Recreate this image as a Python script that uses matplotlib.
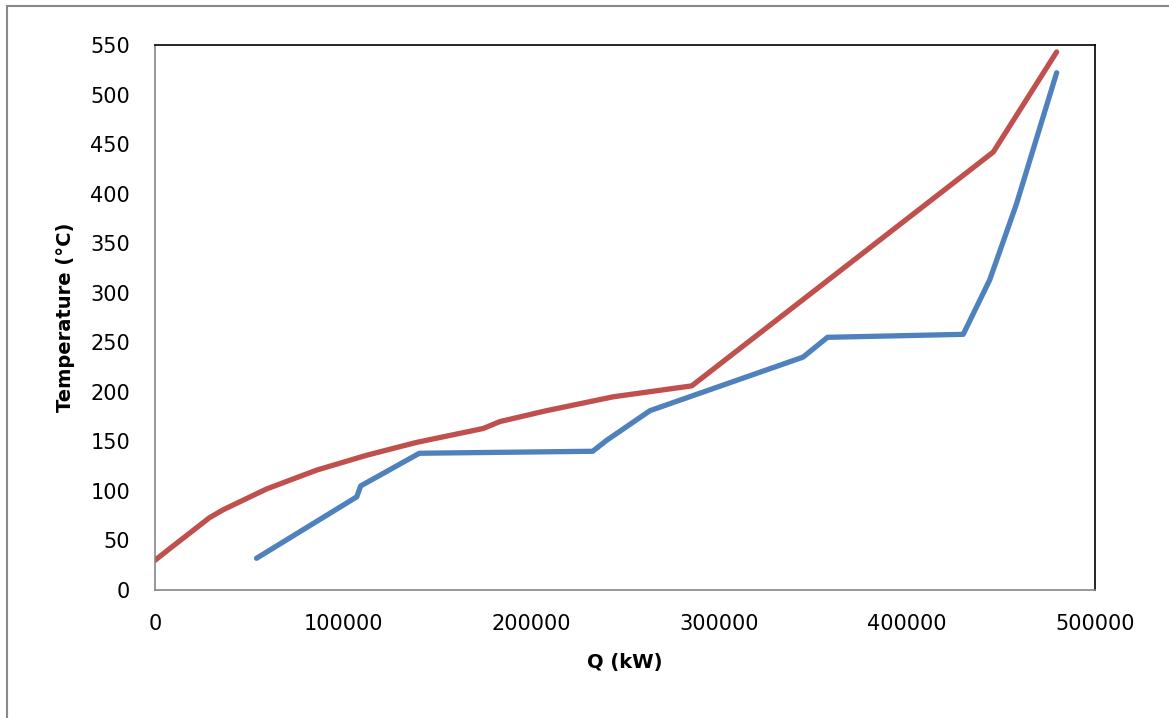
import matplotlib
matplotlib.use("Agg")
import matplotlib.pyplot as plt
from matplotlib.patches import Rectangle
from matplotlib.ticker import FuncFormatter

# hot stream (red) composite curve
hot_q = [0, 8000, 29000, 36300, 59400, 86000, 112600, 139200, 174600,
         183500, 208300, 243800, 285500, 445900, 479600]
hot_t = [30, 42, 73, 81, 102, 121, 136, 149, 163,
         170, 181, 195, 206, 442, 543]

# cold stream (blue) composite curve
cold_q = [54000, 107300, 109400, 140600, 232800, 240200, 263300,
          344700, 357700, 429900, 444000, 458300, 479600]
cold_t = [32, 94, 105, 138, 140, 151, 181,
          235, 255, 258, 313, 390, 522]

x_ticks = [0, 100000, 200000, 300000, 400000, 500000]
y_ticks = list(range(0, 551, 50))

plt.rcParams["font.family"] = ["DejaVu Sans"]

fig = plt.figure(figsize=(11.69, 7.18), dpi=100, facecolor="white")
ax = fig.add_axes([155 / 1169, 1 - 590 / 718, 940 / 1169, 545 / 718])

ax.plot(hot_q, hot_t, color="#C0504D", linewidth=3.8, solid_capstyle="round",
        solid_joinstyle="round")
ax.plot(cold_q, cold_t, color="#4F81BD", linewidth=3.8, solid_capstyle="round",
        solid_joinstyle="round")

ax.set_xlim(0, 500000)
ax.set_ylim(0, 550)
ax.set_xticks(x_ticks)
ax.set_yticks(y_ticks)
ax.xaxis.set_major_formatter(FuncFormatter(lambda v, p: f"{int(v)}"))
ax.tick_params(axis="both", length=0, labelsize=15, colors="black")
ax.tick_params(axis="y", pad=18)
ax.tick_params(axis="x", pad=17)

ax.spines["left"].set_color("#868686")
ax.spines["bottom"].set_color("#868686")
ax.spines["top"].set_color("black")
ax.spines["right"].set_color("black")
for s in ax.spines.values():
    s.set_linewidth(1.2)

ax.set_xlabel("Q (kW)", fontsize=14, fontweight="bold", labelpad=14)
ax.set_ylabel("Temperature (°C)", fontsize=14, fontweight="bold", labelpad=11)

# outer chart frame (only left/top edges visible)
fig.patches.append(Rectangle((7 / 1169, -0.1), 1.2, 1 - 6 / 718 + 0.1,
                             transform=fig.transFigure, fill=False,
                             edgecolor="#898989", linewidth=1.5))

fig.savefig("out.png", dpi=100, facecolor="white")
